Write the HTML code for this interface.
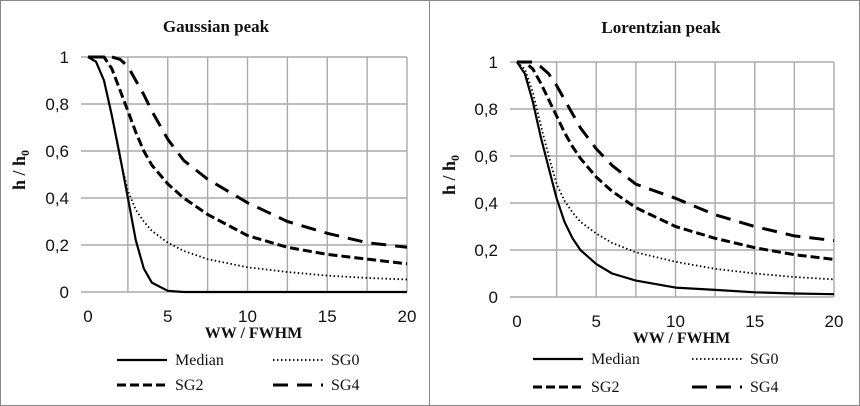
<!DOCTYPE html>
<html><head><meta charset="utf-8"><style>
html,body{margin:0;padding:0;background:#fff}
svg{display:block}
.tk{font-family:"Liberation Sans",sans-serif;font-size:17px;fill:#111}
.ttl{font-family:"Liberation Serif",serif;font-weight:bold;font-size:17px;fill:#111}
.ax{font-family:"Liberation Serif",serif;font-weight:bold;font-size:16px;fill:#111}
.lg{font-family:"Liberation Serif",serif;font-size:16px;fill:#111}
</style></head><body>
<svg id="chart" width="860" height="406" viewBox="0 0 860 406">
<rect x="0.5" y="0.5" width="859" height="405" fill="#fff" stroke="#888"/>
<line x1="429.5" y1="0" x2="429.5" y2="406" stroke="#888"/>
</svg>
<script>
const xs=[0,0.5,1,1.5,2,2.5,3,3.5,4,5,6,7.5,10,12.5,15,17.5,20];
const xTicks=[0,5,10,15,20];
const yTicks=[0,0.2,0.4,0.6,0.8,1];
const yTickLabels=["0","0,2","0,4","0,6","0,8","1"];
const seriesNames=["Median","SG0","SG2","SG4"];
const gaussMedian=[1,0.98,0.9,0.75,0.58,0.4,0.22,0.1,0.04,0.005,0,0,0,0,0,0,0];
const gaussSG0=[1,0.98,0.9,0.75,0.57,0.43,0.35,0.3,0.26,0.21,0.175,0.14,0.105,0.085,0.07,0.06,0.053];
const gaussSG2=[1,1,1,0.95,0.86,0.77,0.68,0.6,0.54,0.46,0.4,0.33,0.24,0.19,0.16,0.14,0.12];
const gaussSG4=[1,1,1,1,0.99,0.96,0.9,0.84,0.77,0.65,0.56,0.48,0.38,0.3,0.25,0.21,0.19];
const lorMedian=[1,0.95,0.83,0.68,0.55,0.42,0.32,0.25,0.2,0.14,0.1,0.07,0.04,0.03,0.02,0.015,0.012];
const lorSG0=[1,0.97,0.87,0.73,0.6,0.48,0.41,0.36,0.32,0.27,0.23,0.19,0.15,0.12,0.1,0.085,0.075];
const lorSG2=[1,1,0.97,0.91,0.84,0.77,0.7,0.64,0.59,0.51,0.45,0.38,0.3,0.25,0.21,0.18,0.16];
const lorSG4=[1,1,1,0.98,0.95,0.9,0.84,0.78,0.72,0.63,0.56,0.48,0.42,0.35,0.3,0.26,0.24];

const NS="http://www.w3.org/2000/svg";
const svg=document.getElementById('chart');
const styles=[{w:2.2,d:""},{w:1.8,d:"1.5 2.5"},{w:3,d:"9 4"},{w:3,d:"15 9"}];
function mk(tag,attrs,parent){const e=document.createElementNS(NS,tag);for(const k in attrs)e.setAttribute(k,attrs[k]);(parent||svg).appendChild(e);return e;}

function panel(p){
  const g=mk('g',{});
  
  
  const X=v=>p.x0+(p.x1-p.x0)*v/20, Y=v=>p.y0-(p.y0-p.y1)*v;
  for(let v=2.5;v<=20.01;v+=2.5){const l=mk('line',{x1:X(v),x2:X(v),y1:p.y1,y2:p.y0,stroke:'#aaa','stroke-width':1.4},g);
    }
  yTicks.forEach((v,i)=>{const l=mk('line',{x1:p.x0-7,x2:X(20),y1:Y(v),y2:Y(v),stroke:'#aaa','stroke-width':1.4},g);
    
    const t=mk('text',{x:p.x0-19,y:Y(v)+6,'text-anchor':'end',class:'tk'},g);t.textContent=yTickLabels[i];
    });
  xTicks.forEach(v=>{const t=mk('text',{x:X(v),y:p.y0+30,'text-anchor':'middle',class:'tk'},g);t.textContent=v;
    });
  const t=mk('text',{x:p.tx,y:p.ty,'text-anchor':'middle',class:'ttl'},g);t.textContent=p.title;
  
  const xa=mk('text',{x:(X(0)+X(20))/2+6,y:p.y0+46,'text-anchor':'middle',class:'ax'},g);xa.textContent='WW / FWHM';
  
  const ya=mk('text',{transform:`translate(${p.yx},${p.yy}) rotate(-90)`,'text-anchor':'middle',class:'ax',style:'font-size:18px'},g);
  
  const s1=mk('tspan',{},ya);s1.textContent='h / h';
  const s2=mk('tspan',{dy:'4','font-size':'12'},ya);s2.textContent='0';
  p.data.forEach((arr,si)=>{
    const d=arr.map((v,i)=>(i?'L':'M')+X(xs[i]).toFixed(1)+','+Y(v).toFixed(1)).join(' ');
    const path=mk('path',{d:d,fill:'none',stroke:'#000','stroke-width':styles[si].w,'stroke-dasharray':styles[si].d,'stroke-linejoin':'round'},g);
    
    
  });
  seriesNames.forEach((n,si)=>{
    const lx=p.lx[si%2], ly=p.ly[Math.floor(si/2)];
    const ln=mk('line',{x1:lx,x2:lx+50,y1:ly,y2:ly,stroke:'#000','stroke-width':styles[si].w,'stroke-dasharray':styles[si].d},g);
    
    const tx=mk('text',{x:lx+58,y:ly+5,class:'lg'},g);tx.textContent=n;
    
  });
}
panel({id:'gaussian',title:'Gaussian peak',x0:88,x1:407,y0:292,y1:57,tx:216,ty:32,yx:25,yy:170,lx:[117,273],ly:[360,385],data:[gaussMedian,gaussSG0,gaussSG2,gaussSG4]});
panel({id:'lorentzian',title:'Lorentzian peak',x0:517,x1:834,y0:297,y1:62,tx:661,ty:33,yx:455,yy:175,lx:[533,692],ly:[359,387],data:[lorMedian,lorSG0,lorSG2,lorSG4]});
</script>
</body></html>
